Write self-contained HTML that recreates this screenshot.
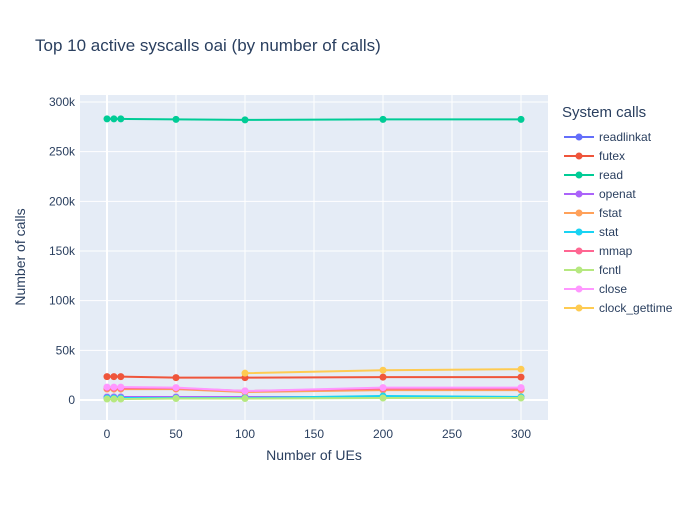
<!DOCTYPE html>
<html><head><meta charset="utf-8"><style>
body{margin:0;background:#fff;font-family:"Liberation Sans",sans-serif;}
text{font-family:"Liberation Sans",sans-serif;fill:#2a3f5f;}
</style></head><body>
<svg id="c" width="700" height="500">
<rect width="700" height="500" fill="#fff"/>
<text x="35" y="51" font-size="17">Top 10 active syscalls oai (by number of calls)</text>
<rect x="80" y="95" width="468" height="325" fill="#e5ecf6"/>
<g id="grid"></g><g id="series"></g><g id="legend"></g>
<text x="314" y="460" font-size="14" text-anchor="middle">Number of UEs</text>
<text transform="translate(25,257) rotate(-90)" font-size="14" text-anchor="middle">Number of calls</text>
<text x="562" y="117" font-size="15">System calls</text>
</svg>
<script>
const xsAll=[0,5,10,50,100,200,300];
const names=["readlinkat","futex","read","openat","fstat","stat","mmap","fcntl","close","clock_gettime"];
const colors=["#636efa","#EF553B","#00cc96","#ab63fa","#FFA15A","#19d3f3","#FF6692","#B6E880","#FF97FF","#FECB52"];
const readlinkat=[2500,2500,2500,2500,2500,2500,2500];
const futex=[23500,23500,23500,22500,22500,23000,23000];
const read=[283000,283000,283000,282500,282000,282500,282500];
const openat=[3000,3000,3000,3000,3000,3000,3000];
const fstat=[11000,11000,11000,11000,8000,10000,10000];
const stat=[2000,2000,2000,2000,2000,4000,3000];
const mmap=[12000,12000,12000,12000,9000,11500,11500];
const fcntl=[1000,1000,1000,1500,1500,2000,2000];
const close=[13000,13000,13000,12500,9000,12500,12500];
const clockX=[100,200,300];
const clock_gettime=[27000,30000,31000];
const xTicks=[0,50,100,150,200,250,300];
const yTicks=[0,50000,100000,150000,200000,250000,300000];
const yLabels=["0","50k","100k","150k","200k","250k","300k"];
const X=v=>107+v*(521-107)/300, Y=v=>400-v*(400-102)/300000;
const NS="http://www.w3.org/2000/svg";
function mk(t,a,p){const e=document.createElementNS(NS,t);for(const k in a)e.setAttribute(k,a[k]);p.appendChild(e);return e;}
const g=document.getElementById('grid');
xTicks.forEach(v=>{const l=mk('line',{x1:X(v),x2:X(v),y1:95,y2:420,stroke:'#fff','stroke-width':v===0?2:1},g);


const t=mk('text',{x:X(v),y:438,'font-size':12,'text-anchor':'middle'},g);t.textContent=v;

});
yTicks.forEach((v,i)=>{const l=mk('line',{x1:80,x2:548,y1:Y(v),y2:Y(v),stroke:'#fff','stroke-width':v===0?2:1},g);


const t=mk('text',{x:75,y:Y(v)+4,'font-size':12,'text-anchor':'end'},g);t.textContent=yLabels[i];

});
const data=[readlinkat,futex,read,openat,fstat,stat,mmap,fcntl,close,clock_gettime];
const s=document.getElementById('series'),lg=document.getElementById('legend');
data.forEach((d,i)=>{const xs=i===9?clockX:xsAll;const grp=mk('g',{},s);


mk('polyline',{points:d.map((v,j)=>X(xs[j])+','+Y(v)).join(' '),fill:'none',stroke:colors[i],'stroke-width':2},grp);
d.forEach((v,j)=>{const c=mk('circle',{cx:X(xs[j]),cy:Y(v),r:3.5,fill:colors[i]},grp);

});
const ly=137+i*19;const le=mk('g',{},lg);


mk('line',{x1:564,x2:594,y1:ly,y2:ly,stroke:colors[i],'stroke-width':2},le);
mk('circle',{cx:579,cy:ly,r:3.5,fill:colors[i]},le);
const t=mk('text',{x:599,y:ly+4,'font-size':12},le);t.textContent=names[i];});
</script>
</body></html>
